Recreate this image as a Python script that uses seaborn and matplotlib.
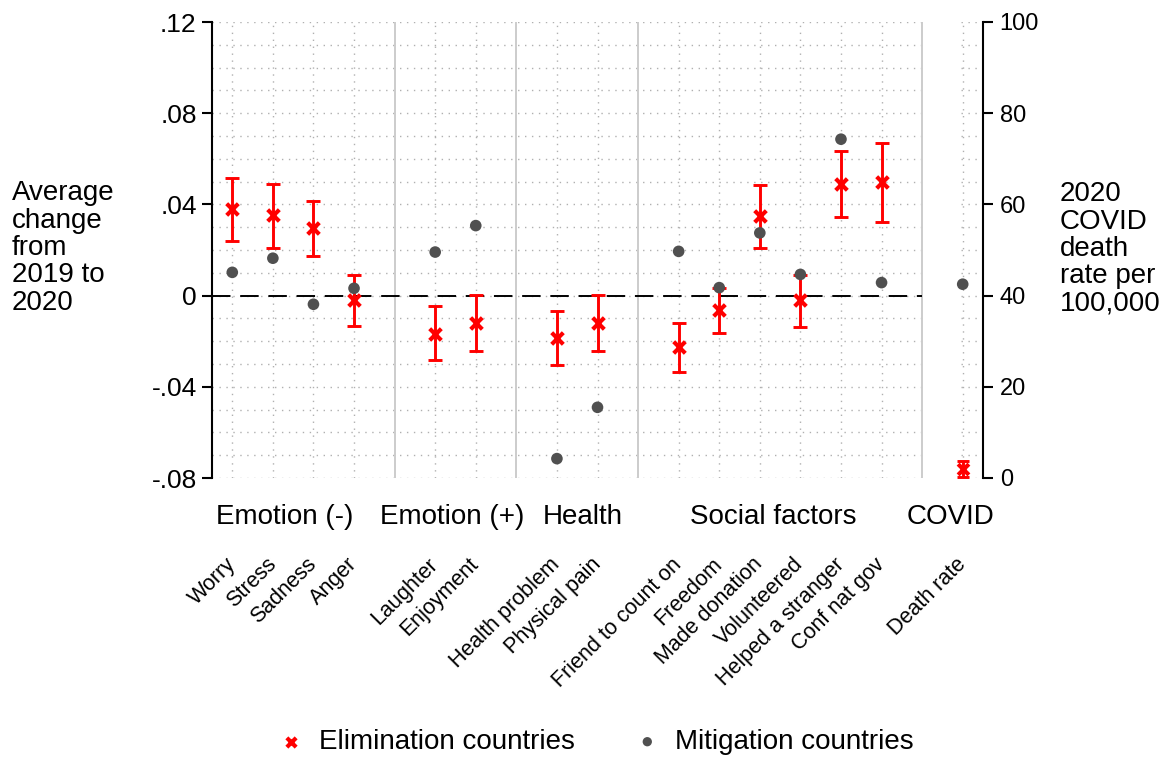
import numpy as np
import pandas as pd
import matplotlib
matplotlib.use("Agg")
import matplotlib.pyplot as plt
import matplotlib.transforms as mtransforms
import seaborn as sns

# ---- data -------------------------------------------------------------
group_names = ["Emotion (-)", "Emotion (+)", "Health", "Social factors"]
group_items = [
    ["Worry", "Stress", "Sadness", "Anger"],
    ["Laughter", "Enjoyment"],
    ["Health problem", "Physical pain"],
    ["Friend to count on", "Freedom", "Made donation", "Volunteered",
     "Helped a stranger", "Conf nat gov"],
]

# average change 2019 -> 2020, elimination countries (point and 95% CI)
elim = [0.0378, 0.0352, 0.0295, -0.0021, -0.0167, -0.0120, -0.0184, -0.0120,
        -0.0227, -0.0063, 0.0348, -0.0021, 0.0491, 0.0498]
elim_lo = [0.0238, 0.0209, 0.0173, -0.0135, -0.0282, -0.0243, -0.0303, -0.0243,
           -0.0333, -0.0162, 0.0209, -0.0136, 0.0346, 0.0325]
elim_hi = [0.0514, 0.0491, 0.0414, 0.0091, -0.0047, 0.0004, -0.0066, 0.0004,
           -0.0120, 0.0035, 0.0487, 0.0092, 0.0634, 0.0669]
# average change 2019 -> 2020, mitigation countries
mitig = [0.0102, 0.0164, -0.0038, 0.0032, 0.0191, 0.0307, -0.0715, -0.0490,
         0.0194, 0.0035, 0.0275, 0.0093, 0.0686, 0.0057]

# 2020 COVID death rate per 100,000
covid_label = "Death rate"
death_elim, death_elim_lo, death_elim_hi = 2.0, 0.3, 3.8
death_mitig = 42.5

left_ticks = [-0.08, -0.04, 0.0, 0.04, 0.08, 0.12]
left_ticklabels = ["-.08", "-.04", "0", ".04", ".08", ".12"]
right_ticks = [0, 20, 40, 60, 80, 100]

# ---- layout: one empty slot between groups ------------------------------
labels, pos, seps = [], [], []
p = 1
for items in group_items:
    for it in items:
        labels.append(it)
        pos.append(p)
        p += 1
    seps.append(p)
    p += 1
covid_pos = seps[-1] + 1          # slot after the last separator
labels_all = labels + [covid_label]
pos_all = pos + [covid_pos]

RED = "#FF0000"
GREY = "#505050"
GRID = "#b0b0b0"

sns.set_theme(style="white")
plt.rcParams["font.family"] = ["Liberation Sans", "DejaVu Sans"]
plt.rcParams["text.color"] = "black"

fig = plt.figure(figsize=(11.67, 7.57), dpi=100)
ax = fig.add_axes([212 / 1167, 1 - 478 / 757, (983 - 212) / 1167, (478 - 22) / 757])
x0, x1 = 0.5, covid_pos + 0.5
ax.set_xlim(x0, x1)
ax.set_ylim(-0.08, 0.12)

# dotted grid: horizontal every .01, broken around the COVID panel
hgrid = np.linspace(-0.08, 0.12, 21)
dot = (0, (1, 4))
ax.hlines(hgrid, x0, seps[-1], colors=GRID, linestyles=dot, lw=1.0, zorder=0)
ax.hlines(hgrid, covid_pos - 0.05, x1 - 0.05, colors=GRID, linestyles=dot, lw=1.0, zorder=0)
ax.vlines(pos_all, -0.08, 0.12, colors=GRID, linestyles=dot, lw=1.0, zorder=0)
# group separators
ax.vlines(seps, -0.08, 0.12, colors="#cccccc", lw=1.4, zorder=0.5)
# zero reference line
ax.hlines(0, x0, seps[-1], colors="black", lw=1.4, linestyles=(0, (9.5, 5)), zorder=1)

# elimination countries: CI bars then x markers
yerr = np.array([np.array(elim) - np.array(elim_lo), np.array(elim_hi) - np.array(elim)])
ax.errorbar(pos, elim, yerr=yerr, fmt="none", ecolor=RED, elinewidth=2.1,
            capsize=5, capthick=2.1, zorder=2)
df = pd.DataFrame({"pos": pos, "elim": elim, "mitig": mitig})
sns.scatterplot(data=df, x="pos", y="elim", marker="x", color=RED, s=70,
                linewidth=3.0, ax=ax, zorder=3, label="Elimination countries")
sns.scatterplot(data=df, x="pos", y="mitig", marker="o", color=GREY, s=70,
                edgecolor="none", ax=ax, zorder=4, label="Mitigation countries")
handles, leg_labels = ax.get_legend_handles_labels()
if ax.get_legend() is not None:
    ax.get_legend().remove()

# COVID death rate on its own right-hand scale
ax2 = ax.twinx()
ax2.set_ylim(0, 100)
ax2.errorbar([covid_pos], [death_elim],
             yerr=[[death_elim - death_elim_lo], [death_elim_hi - death_elim]],
             fmt="none", ecolor=RED, elinewidth=2.1, capsize=4, capthick=2.1, zorder=2)
sns.scatterplot(x=[covid_pos], y=[death_elim], marker="x", color=RED, s=60,
                linewidth=3.0, ax=ax2, zorder=3, legend=False)
sns.scatterplot(x=[covid_pos], y=[death_mitig], marker="o", color=GREY, s=70,
                edgecolor="none", ax=ax2, zorder=4, legend=False)

# spines and ticks
for a in (ax, ax2):
    for s in ("top", "bottom"):
        a.spines[s].set_visible(False)
    a.set_xlabel("")
    a.set_ylabel("")
ax.spines["right"].set_visible(False)
ax2.spines["left"].set_visible(False)
ax.spines["left"].set_linewidth(1.5)
ax.spines["left"].set_color("black")
ax2.spines["right"].set_linewidth(1.5)
ax2.spines["right"].set_color("black")

ax.set_yticks(left_ticks)
ax.set_yticklabels(left_ticklabels, fontsize=19, color="black")
ax.tick_params(axis="y", which="both", left=True, length=7, width=1.5,
               color="black", pad=4)
ax2.set_yticks(right_ticks)
ax2.set_yticklabels([str(t) for t in right_ticks], fontsize=17, color="black")
ax2.tick_params(axis="y", right=True, length=7, width=1.5, color="black", pad=5)

ax.set_xticks(pos_all)
ax.set_xticklabels(labels_all, rotation=45, ha="right", va="center",
                   rotation_mode="anchor", fontsize=15.5, color="black")
ax.tick_params(axis="x", length=0, pad=60)

# group titles under the axis
trans = mtransforms.blended_transform_factory(ax.transData, fig.transFigure)
group_x = [2.30, 6.41, 9.64, 14.32, 18.71]
for gx, name in zip(group_x, group_names + ["COVID"]):
    ax.text(gx, 1 - 517 / 757, name, transform=trans, ha="center", va="center",
            fontsize=20, color="black")

# axis titles
fig.text(12 / 1167, 1 - 248 / 757, "Average\nchange\nfrom\n2019 to\n2020",
         ha="left", va="center", fontsize=20, linespacing=1.07, color="black")
fig.text(1060 / 1167, 1 - 249 / 757, "2020\nCOVID\ndeath\nrate per\n100,000",
         ha="left", va="center", fontsize=20, linespacing=1.07, color="black")

fig.legend(handles, leg_labels, loc="center", bbox_to_anchor=(597 / 1167, 1 - 742 / 757),
           ncol=2, frameon=False, fontsize=20, handlelength=0.8, handletextpad=0.6,
           columnspacing=2.2, markerscale=0.8, labelcolor="black")

fig.savefig("out.png", dpi=100, facecolor="white")
